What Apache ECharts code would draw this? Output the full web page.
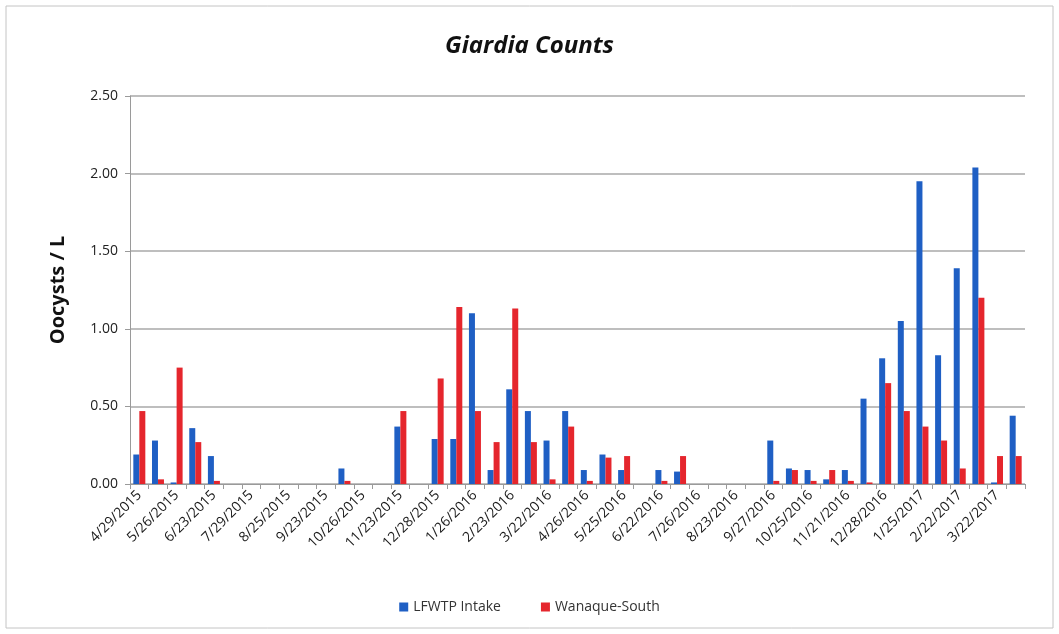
<!DOCTYPE html>
<html>
<head>
<meta charset="utf-8">
<script src="https://cdn.jsdelivr.net/npm/echarts@6/dist/echarts.min.js"></script>
<style>
  html, body { margin: 0; padding: 0; background: #fff; }
  #chart { width: 1059px; height: 634px; }
</style>
</head>
<body>
<div id="chart"></div>
<script>
// sample dates (every other one is labelled on the axis)
const sampleDates = [
  "4/29/2015", "5/12/2015", "5/26/2015", "6/9/2015", "6/23/2015", "7/14/2015",
  "7/29/2015", "8/11/2015", "8/25/2015", "9/9/2015", "9/23/2015", "10/13/2015",
  "10/26/2015", "11/10/2015", "11/23/2015", "12/14/2015", "12/28/2015", "1/12/2016",
  "1/26/2016", "2/9/2016", "2/23/2016", "3/8/2016", "3/22/2016", "4/12/2016",
  "4/26/2016", "5/10/2016", "5/25/2016", "6/8/2016", "6/22/2016", "7/12/2016",
  "7/26/2016", "8/9/2016", "8/23/2016", "9/13/2016", "9/27/2016", "10/11/2016",
  "10/25/2016", "11/8/2016", "11/21/2016", "12/13/2016", "12/28/2016", "1/10/2017",
  "1/25/2017", "2/8/2017", "2/22/2017", "3/8/2017", "3/22/2017", "4/5/2017"
];

const lfwtpIntake = [
  0.19, 0.28, 0.01, 0.36, 0.18, 0, 0, 0, 0, 0, 0, 0.10,
  0, 0, 0.37, 0, 0.29, 0.29, 1.10, 0.09, 0.61, 0.47, 0.28, 0.47,
  0.09, 0.19, 0.09, 0, 0.09, 0.08, 0, 0, 0, 0, 0.28, 0.10,
  0.09, 0.03, 0.09, 0.55, 0.81, 1.05, 1.95, 0.83, 1.39, 2.04, 0.01, 0.44
];

const wanaqueSouth = [
  0.47, 0.03, 0.75, 0.27, 0.02, 0, 0, 0, 0, 0, 0, 0.02,
  0, 0, 0.47, 0, 0.68, 1.14, 0.47, 0.27, 1.13, 0.27, 0.03, 0.37,
  0.02, 0.17, 0.18, 0, 0.02, 0.18, 0, 0, 0, 0, 0.02, 0.09,
  0.02, 0.09, 0.02, 0.01, 0.65, 0.47, 0.37, 0.28, 0.10, 1.20, 0.18, 0.18
];

const yTicks = [0, 0.5, 1.0, 1.5, 2.0, 2.5];

const chart = echarts.init(document.getElementById("chart"));

const font = "'Open Sans', 'Liberation Sans', sans-serif";

chart.setOption({
  animation: false,
  backgroundColor: "#fff",
  textStyle: { fontFamily: font },
  title: {
    text: "Giardia Counts",
    left: "center",
    top: 29,
    textStyle: {
      fontSize: 24,
      fontWeight: "bold",
      fontStyle: "italic",
      color: "#111",
      fontFamily: font
    }
  },
  legend: {
    bottom: 15,
    left: "center",
    icon: "rect",
    itemWidth: 9,
    itemHeight: 9,
    itemGap: 40,
    textStyle: { fontSize: 14, color: "#333", fontFamily: font },
    data: ["LFWTP Intake", "Wanaque-South"]
  },
  graphic: [{
    type: "rect",
    shape: { x: 6, y: 6, width: 1047, height: 622 },
    style: { fill: "none", stroke: "#c4c4c4", lineWidth: 1 },
    silent: true
  }],
  grid: { left: 130, right: 34, top: 96, bottom: 150 },
  xAxis: {
    type: "category",
    data: sampleDates,
    axisLine: { lineStyle: { color: "#9a9a9a" } },
    axisTick: { show: true, interval: 0, length: 5, lineStyle: { color: "#9a9a9a" } },
    axisLabel: {
      interval: 1,
      rotate: 45,
      fontSize: 14,
      color: "#1a1a1a",
      margin: 9,
      fontFamily: font
    }
  },
  yAxis: {
    type: "value",
    min: yTicks[0],
    max: yTicks[yTicks.length - 1],
    interval: 0.5,
    name: "Oocysts / L",
    nameLocation: "middle",
    nameGap: 62,
    nameTextStyle: { fontSize: 20, fontWeight: "bold", color: "#111", fontFamily: font },
    axisLine: { show: true, lineStyle: { color: "#9a9a9a" } },
    axisTick: { show: true, length: 5, lineStyle: { color: "#9a9a9a" } },
    axisLabel: {
      fontSize: 14,
      color: "#222",
      margin: 12,
      formatter: (v) => v.toFixed(2)
    },
    splitLine: { lineStyle: { color: "#a8a8a8", width: 1.5 } }
  },
  series: [
    {
      name: "LFWTP Intake",
      type: "bar",
      data: lfwtpIntake,
      barWidth: 6,
      barGap: "0%",
      itemStyle: { color: "#1F5FC4" }
    },
    {
      name: "Wanaque-South",
      type: "bar",
      data: wanaqueSouth,
      barWidth: 6,
      barGap: "0%",
      itemStyle: { color: "#E5262D" }
    }
  ]
});
</script>
</body>
</html>
